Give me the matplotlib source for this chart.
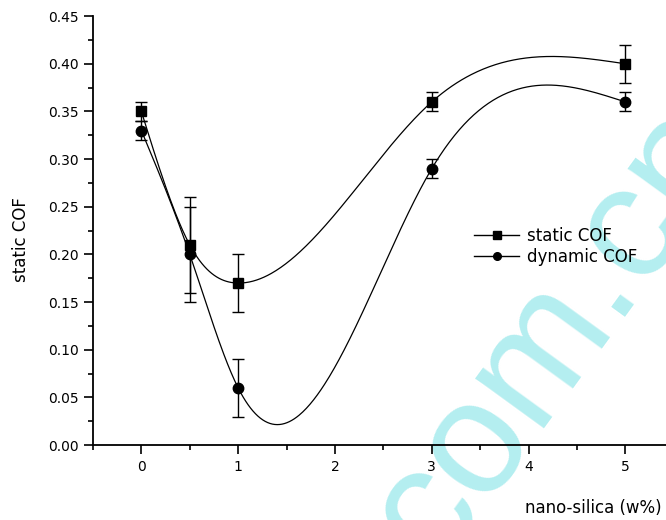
import numpy as np
import matplotlib
matplotlib.use('Agg')
import matplotlib.pyplot as plt

plt.rcParams['font.family'] = ['DejaVu Sans']

# data
silica = [0, 0.5, 1, 3, 5]
static_cof = [0.35, 0.21, 0.17, 0.36, 0.40]
static_err = [0.01, 0.05, 0.03, 0.01, 0.02]
dynamic_cof = [0.33, 0.20, 0.06, 0.29, 0.36]
dynamic_err = [0.01, 0.05, 0.03, 0.01, 0.01]
y_ticks = [0.00, 0.05, 0.10, 0.15, 0.20, 0.25, 0.30, 0.35, 0.40, 0.45]
x_ticks = [0, 1, 2, 3, 4, 5]


def natural_spline(x, y, n=400):
    """Natural cubic spline through the points (numpy only)"""
    x = np.asarray(x, float)
    y = np.asarray(y, float)
    k = len(x)
    h = np.diff(x)
    A = np.zeros((k, k))
    b = np.zeros(k)
    A[0, 0] = 1
    A[-1, -1] = 1
    for i in range(1, k - 1):
        A[i, i - 1] = h[i - 1]
        A[i, i] = 2 * (h[i - 1] + h[i])
        A[i, i + 1] = h[i]
        b[i] = 6 * ((y[i + 1] - y[i]) / h[i] - (y[i] - y[i - 1]) / h[i - 1])
    M = np.linalg.solve(A, b)
    xs = np.linspace(x[0], x[-1], n)
    ys = np.empty_like(xs)
    for j, t in enumerate(xs):
        i = min(np.searchsorted(x, t, side='right') - 1, k - 2)
        a, c = x[i], x[i + 1]
        hh = c - a
        ys[j] = (M[i] * (c - t) ** 3 / (6 * hh) + M[i + 1] * (t - a) ** 3 / (6 * hh)
                 + (y[i] / hh - M[i] * hh / 6) * (c - t)
                 + (y[i + 1] / hh - M[i + 1] * hh / 6) * (t - a))
    return xs, ys


fig = plt.figure(figsize=(6.66, 5.2), dpi=100)
ax = fig.add_axes([0.1396, 0.144, 0.8604, 0.825])

# watermark, behind everything
fig.text(0.883, 0.3096, 'com.cn', color='#b4eef0', fontsize=116, rotation=54,
         ha='center', va='baseline', rotation_mode='anchor', zorder=-1,
         family='Liberation Sans')

for vals, errs, mk, ms, lab in [(static_cof, static_err, 's', 7, 'static COF'),
                                (dynamic_cof, dynamic_err, 'o', 7.5, 'dynamic COF')]:
    xs, ys = natural_spline(silica, vals)
    ax.plot(xs, ys, color='black', lw=0.9, zorder=2)
    ax.errorbar(silica, vals, yerr=errs, fmt='none', ecolor='black',
                elinewidth=1, capsize=4.3, capthick=1, zorder=3)
    ax.plot(silica, vals, linestyle='none', marker=mk, color='black',
            markersize=ms, zorder=4)
    ax.plot([], [], color='black', lw=1, marker=mk, markersize=5.5, label=lab)

ax.set_xlim(-0.5, 5.42)
ax.set_ylim(0, 0.45)
ax.set_xticks(x_ticks)
ax.set_xticks(np.arange(-0.5, 5.5, 0.5), minor=True)
ax.set_yticks(y_ticks)
ax.set_yticks(np.arange(0.025, 0.45, 0.05), minor=True)
ax.set_yticklabels(['%.2f' % v for v in y_ticks])
ax.tick_params(which='major', direction='out', length=6.5, width=1.2,
               labelsize=10, pad=4)
ax.tick_params(which='minor', direction='out', length=3.5, width=1.2)

for s in ['top', 'right']:
    ax.spines[s].set_visible(False)
for s in ['left', 'bottom']:
    ax.spines[s].set_linewidth(1.3)
ax.patch.set_alpha(0)

ax.set_ylabel('static COF', fontsize=12)
ax.yaxis.set_label_coords(-0.11, 0.48)
fig.text(0.994, 0.023, 'nano-silica (w%)', fontsize=12, ha='right', va='center')

ax.legend(loc='center left', bbox_to_anchor=(0.665, 0.4627), frameon=False,
          fontsize=12, handlelength=2.7, handletextpad=0.5, labelspacing=0.2,
          borderpad=0, borderaxespad=0)

fig.savefig('out.png', dpi=100)
